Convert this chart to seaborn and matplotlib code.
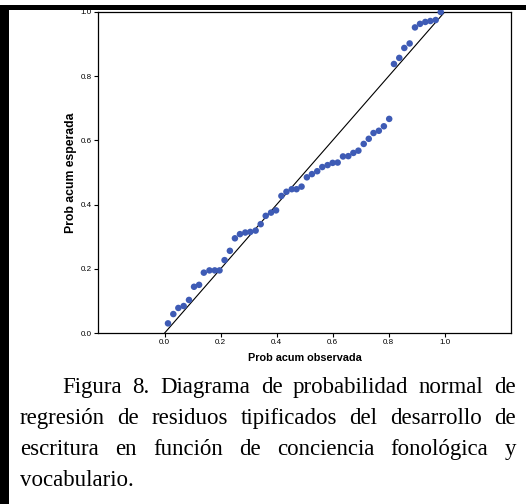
import matplotlib
matplotlib.use("Agg")
import matplotlib.pyplot as plt
import seaborn as sns
import pandas as pd
from matplotlib.patches import Rectangle

# ---- data ----
prob_obs = [0.012, 0.031, 0.049, 0.068, 0.087, 0.105, 0.123, 0.140, 0.160, 0.179,
            0.196, 0.214, 0.233, 0.251, 0.269, 0.288, 0.306, 0.325, 0.343, 0.361,
            0.380, 0.398, 0.417, 0.435, 0.454, 0.471, 0.489, 0.508, 0.526, 0.545,
            0.563, 0.582, 0.600, 0.618, 0.637, 0.656, 0.674, 0.692, 0.711, 0.729,
            0.746, 0.765, 0.783, 0.802, 0.819, 0.838, 0.856, 0.875, 0.894, 0.912,
            0.931, 0.949, 0.968, 0.986]
prob_esp = [0.030, 0.059, 0.078, 0.084, 0.103, 0.144, 0.150, 0.188, 0.195, 0.195,
            0.195, 0.227, 0.256, 0.295, 0.308, 0.313, 0.315, 0.319, 0.339, 0.365,
            0.375, 0.382, 0.427, 0.440, 0.448, 0.448, 0.456, 0.485, 0.495, 0.504,
            0.517, 0.523, 0.530, 0.531, 0.550, 0.551, 0.561, 0.568, 0.589, 0.605,
            0.623, 0.630, 0.644, 0.667, 0.838, 0.857, 0.888, 0.902, 0.952, 0.963,
            0.969, 0.972, 0.975, 1.000]
ref_x = [0.0, 1.0]
ref_y = [0.0, 1.0]
ticks = [0.0, 0.2, 0.4, 0.6, 0.8, 1.0]
tick_labels = ["0.0", "0.2", "0.4", "0.6", "0.8", "1.0"]
x_label = "Prob acum observada"
y_label = "Prob acum esperada"
caption_lines = [
    "Figura 8. Diagrama de probabilidad normal de",
    "regresión de residuos tipificados del desarrollo de",
    "escritura en función de conciencia fonológica y",
    "vocabulario.",
]

df = pd.DataFrame({"obs": prob_obs, "esp": prob_esp})

W, H = 526, 504
fig = plt.figure(figsize=(W / 100, H / 100), dpi=100)
fig.patch.set_facecolor("white")

def fx(px):
    return px / W

def fy(py):
    return 1 - py / H

ax_left, ax_right, ax_top, ax_bottom = 98, 511, 12, 333
ax = fig.add_axes([fx(ax_left), fy(ax_bottom), fx(ax_right - ax_left), (ax_bottom - ax_top) / H])

sns.lineplot(x=ref_x, y=ref_y, ax=ax, color="black", linewidth=0.8)
sns.scatterplot(data=df, x="obs", y="esp", ax=ax, color="#3E5BB5", s=22,
                edgecolor="none", linewidth=0, clip_on=False, zorder=3)

ax.set_xlim(-0.238, 1.237)
ax.set_ylim(0, 1)
ax.set_xticks(ticks)
ax.set_xticklabels(tick_labels)
ax.set_yticks(ticks)
ax.set_yticklabels(tick_labels)
for lab in ax.get_xticklabels() + ax.get_yticklabels():
    lab.set_fontfamily("Liberation Sans")
    lab.set_fontsize(5.8)
    lab.set_color("#222222")
ax.tick_params(axis="both", direction="out", length=3, width=0.8, pad=1.5, colors="black")
for sp in ax.spines.values():
    sp.set_color("black")
    sp.set_linewidth(0.9)
ax.set_xlabel(x_label, fontfamily="Liberation Sans", fontweight="bold", fontsize=7.8, labelpad=5)
ax.set_ylabel(y_label, fontfamily="Liberation Sans", fontweight="bold", fontsize=8.8, labelpad=2.5)

# border of the page frame
fig.patches.append(Rectangle((0, fy(H)), fx(9), fy(5) - fy(H), transform=fig.transFigure,
                             facecolor="black", edgecolor="none"))
fig.patches.append(Rectangle((0, fy(9.5)), 1, (9.5 - 5) / H, transform=fig.transFigure,
                             facecolor="black", edgecolor="none"))

# justified caption
fig.canvas.draw()
renderer = fig.canvas.get_renderer()
cap_font = dict(fontfamily="Liberation Serif", fontsize=16.5, color="black", va="baseline", ha="left")
baselines = [393, 424, 455, 486]
starts = [62, 20, 20, 20]
right_edge = 516
for i, (line, yb, x0) in enumerate(zip(caption_lines, baselines, starts)):
    words = line.split()
    texts = [fig.text(0, fy(yb), w, **cap_font) for w in words]
    widths = [t.get_window_extent(renderer).width for t in texts]
    if i < len(caption_lines) - 1 and len(words) > 1:
        gap = (right_edge - x0 - sum(widths)) / (len(words) - 1)
    else:
        gap = 5.8
    x = x0
    for t, w in zip(texts, widths):
        t.set_x(fx(x))
        x += w + gap

fig.savefig("out.png", dpi=100)
